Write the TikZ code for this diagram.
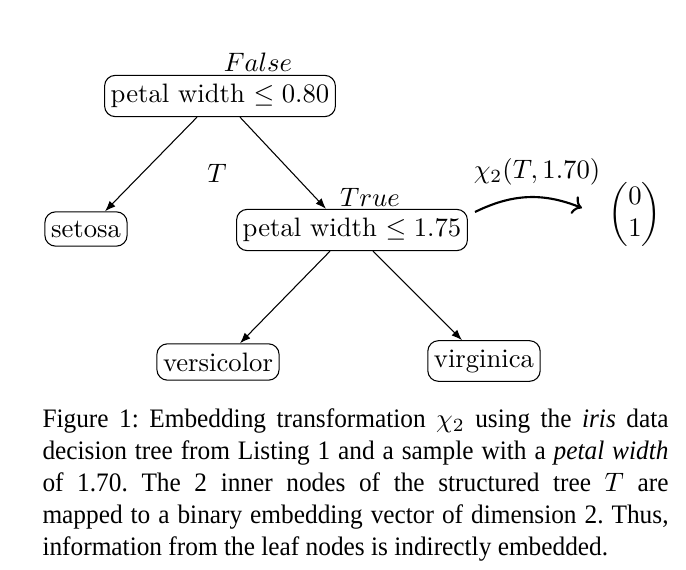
\documentclass[tikz,border=0pt]{standalone}
\usepackage{amsmath}
\usepackage{fontspec}
\newfontfamily\capfont[FakeStretch=0.95]{Liberation Serif}
\usetikzlibrary{arrows.meta,calc}
\begin{document}
\begin{tikzpicture}[x=0.375pt,y=-0.375pt,
  treebox/.style={draw,rounded corners=4pt,inner xsep=2.3pt,inner ysep=3.3pt,line width=0.4pt},
  edge/.style={line width=0.4pt,-{Latex[length=4pt,width=3pt]}},
  embarrow/.style={line width=0.8pt,->}]
\useasboundingbox (0,0) rectangle (686,570);
\node[treebox] (root) at (220,96) {petal width $\leq 0.80$};
\node (lfalse) at (258,62) {$False$};
\node (lT) at (217,173) {$T$};
\node[treebox] (setosa) at (86,229) {setosa};
\node[treebox] (inner) at (352,230) {petal width $\leq 1.75$};
\node (ltrue) at (370,197) {$True$};
\node[treebox] (versi) at (218,362) {versicolor};
\node[treebox] (virg) at (484,361) {virginica};
\draw[edge] ($(root.south)+(-23,0)$) -- ($(setosa.north)+(19,0)$);
\draw[edge] ($(root.south)+(20,0)$) -- ($(inner.north)+(-26,0)$);
\draw[edge] ($(inner.south)+(-22,0)$) -- ($(versi.north)+(22,0)$);
\draw[edge] ($(inner.south)+(21,0)$) -- ($(virg.north)+(-22,0)$);
\node (chi) at (537,172) {$\chi_2(T,1.70)$};
\coordinate (ca) at (475,212);
\coordinate (cb) at (582,208);
\draw[embarrow] (ca) to[bend left=24] (cb);
\node (vec) at (635,214) {$\begin{pmatrix}0\\1\end{pmatrix}$};
\node[anchor=north west,inner sep=0pt,text width=234.75pt,align=justify,font=\capfont\fontsize{10}{12}\selectfont] (cap) at (42,408)
{\hbadness=10000 \frenchspacing Figure 1: Embedding transformation $\chi_2$ using the \textit{iris} data\linebreak
decision tree from Listing 1 and a sample with a \textit{petal width}\linebreak
of 1.70. The 2 inner nodes of the structured tree $T$ are\linebreak
mapped to a binary embedding vector of dimension 2. Thus,\linebreak
information from the leaf nodes is indirectly embedded.};
\end{tikzpicture}
\end{document}
